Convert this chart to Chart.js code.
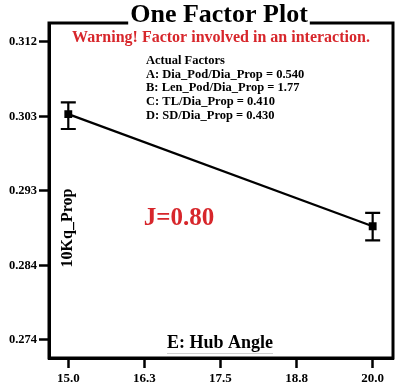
<!DOCTYPE html>
<html>
<head>
<meta charset="utf-8">
<script src="https://cdn.jsdelivr.net/npm/chart.js@4.4.0/dist/chart.umd.min.js"></script>
<style>
    html, body { margin: 0; padding: 0; background: #fff; }
    #wrap { width: 408px; height: 386px; }
</style>
</head>
<body>
<div id="wrap"><canvas id="myChart" width="408" height="386"></canvas></div>
<script>
// hub angle levels and predicted response
const hubAngle = [15.0, 20.0];
const kqMean = [0.3031, 0.2888];
const kqLow = [0.3012, 0.2870];
const kqHigh = [0.3046, 0.2905];

const xTickValues = [15.0, 16.25, 17.5, 18.75, 20.0];
const xTickLabels = ['15.0', '16.3', '17.5', '18.8', '20.0'];
const yTickValues = [0.2743, 0.2838, 0.2933, 0.3028, 0.3123];
const yTickLabels = ['0.274', '0.284', '0.293', '0.303', '0.312'];

const actualFactors = [
    'Actual Factors',
    'A: Dia_Pod/Dia_Prop = 0.540',
    'B: Len_Pod/Dia_Prop = 1.77',
    'C: TL/Dia_Prop = 0.410',
    'D: SD/Dia_Prop = 0.430'
];

const serif = '"Liberation Serif", "Times New Roman", serif';
const red = '#d7262b';

const errorBars = {
    id: 'errorBars',
    afterDatasetsDraw(chart) {
        const ctx = chart.ctx;
        const xs = chart.scales.x, ys = chart.scales.y;
        ctx.save();
        ctx.strokeStyle = '#000';
        ctx.lineWidth = 2.2;
        for (let i = 0; i < hubAngle.length; i++) {
            const px = xs.getPixelForValue(hubAngle[i]);
            const top = ys.getPixelForValue(kqHigh[i]);
            const bot = ys.getPixelForValue(kqLow[i]);
            ctx.beginPath();
            ctx.moveTo(px, top); ctx.lineTo(px, bot);
            ctx.moveTo(px - 7.5, top); ctx.lineTo(px + 7.5, top);
            ctx.moveTo(px - 7.5, bot); ctx.lineTo(px + 7.5, bot);
            ctx.stroke();
        }
        ctx.restore();
    }
};

const decorations = {
    id: 'decorations',
    afterDraw(chart) {
        const ctx = chart.ctx;
        const a = chart.chartArea;
        ctx.save();
        // frame
        ctx.strokeStyle = '#000';
        ctx.lineWidth = 3;
        ctx.strokeRect(a.left, a.top, a.right - a.left, a.bottom - a.top);

        // title on top of the frame
        ctx.font = 'bold 26px ' + serif;
        ctx.textAlign = 'center';
        ctx.textBaseline = 'alphabetic';
        const tw = ctx.measureText('One Factor Plot').width;
        const cx = 219;
        ctx.fillStyle = '#fff';
        ctx.fillRect(cx - tw / 2 - 2, 0, tw + 4, a.top + 2);
        ctx.fillStyle = '#000';
        ctx.fillText('One Factor Plot', cx, 22);

        // warning
        ctx.fillStyle = red;
        ctx.font = 'bold 16px ' + serif;
        ctx.textBaseline = 'middle';
        ctx.fillText('Warning! Factor involved in an interaction.', 221, 38);

        // actual factors block
        ctx.fillStyle = '#000';
        ctx.font = 'bold 12.5px ' + serif;
        ctx.textAlign = 'left';
        actualFactors.forEach((t, i) => ctx.fillText(t, 146, 61 + i * 13.6));

        // J label
        ctx.fillStyle = red;
        ctx.font = 'bold 25px ' + serif;
        ctx.textAlign = 'center';
        ctx.fillText('J=0.80', 179, 219);

        // x axis title inside plot
        ctx.fillStyle = '#000';
        ctx.font = 'bold 18px ' + serif;
        ctx.fillText('E: Hub Angle', 220, 343);
        const xw = ctx.measureText('E: Hub Angle').width;
        ctx.strokeStyle = '#d0d0d0';
        ctx.lineWidth = 1;
        ctx.beginPath();
        ctx.moveTo(220 - xw / 2, 353.5);
        ctx.lineTo(220 + xw / 2, 353.5);
        ctx.stroke();

        // y axis title inside plot
        ctx.translate(68, 228);
        ctx.rotate(-Math.PI / 2);
        ctx.font = 'bold 16px ' + serif;
        ctx.fillText('10Kq_Prop', 0, 0);
        ctx.restore();
    }
};

const ctx = document.getElementById('myChart');

new Chart(ctx, {
    type: 'line',
    data: {
        datasets: [{
            data: hubAngle.map((x, i) => ({ x: x, y: kqMean[i] })),
            borderColor: '#000',
            borderWidth: 2.2,
            backgroundColor: '#000',
            pointStyle: 'rect',
            pointRadius: 4,
            pointBackgroundColor: '#000',
            tension: 0
        }]
    },
    options: {
        responsive: false,
        animation: false,
        devicePixelRatio: 1,
        layout: { padding: { top: 23, right: 15, left: 0, bottom: 0 } },
        plugins: {
            legend: { display: false },
            tooltip: { enabled: false }
        },
        scales: {
            x: {
                type: 'linear',
                min: 14.683,
                max: 20.334,
                afterBuildTicks: (s) => { s.ticks = xTickValues.map(v => ({ value: v })); },
                afterFit: (s) => { s.height = 28; },
                ticks: {
                    callback: (v, i) => xTickLabels[i],
                    color: '#000',
                    font: { family: serif, size: 13, weight: 'bold' },
                    padding: 3,
                    maxRotation: 0
                },
                grid: { drawOnChartArea: false, tickLength: 10, tickWidth: 2.5, color: '#000' },
                border: { display: true, color: '#000', width: 3 }
            },
            y: {
                min: 0.2720,
                max: 0.31472,
                afterBuildTicks: (s) => { s.ticks = yTickValues.map(v => ({ value: v })); },
                afterFit: (s) => { s.width = 49; },
                ticks: {
                    callback: (v, i) => yTickLabels[i],
                    color: '#000',
                    font: { family: serif, size: 12.5, weight: 'bold' },
                    padding: 2
                },
                grid: { drawOnChartArea: false, tickLength: 10, tickWidth: 2.5, color: '#000' },
                border: { display: true, color: '#000', width: 3 }
            }
        }
    },
    plugins: [errorBars, decorations]
});
</script>
</body>
</html>
